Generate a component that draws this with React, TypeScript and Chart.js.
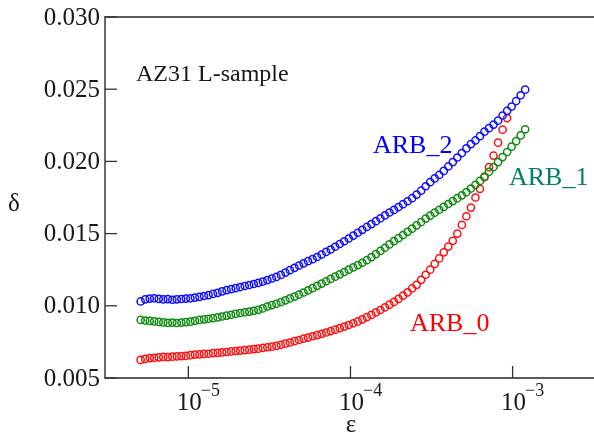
import React, { useEffect, useRef } from "react";
import { Chart, registerables } from "chart.js";
Chart.register(...registerables);

// strain amplitude (epsilon)
const strain = [
  5.08e-6, 5.42e-6, 5.78e-6, 6.16e-6, 6.57e-6, 7.01e-6, 7.47e-6, 7.97e-6, 8.49e-6, 9.06e-6,
  9.66e-6, 1.030e-5, 1.098e-5, 1.171e-5, 1.249e-5, 1.332e-5, 1.420e-5, 1.515e-5, 1.615e-5, 1.722e-5,
  1.837e-5, 1.958e-5, 2.088e-5, 2.227e-5, 2.375e-5, 2.532e-5, 2.700e-5, 2.880e-5, 3.071e-5, 3.274e-5,
  3.492e-5, 3.723e-5, 3.970e-5, 4.234e-5, 4.515e-5, 4.814e-5, 5.134e-5, 5.475e-5, 5.838e-5, 6.225e-5,
  6.637e-5, 7.078e-5, 7.548e-5, 8.049e-5, 8.583e-5, 9.152e-5, 9.759e-5, 1.041e-4, 1.110e-4, 1.183e-4,
  1.262e-4, 1.346e-4, 1.435e-4, 1.530e-4, 1.632e-4, 1.740e-4, 1.855e-4, 1.978e-4, 2.110e-4, 2.250e-4,
  2.399e-4, 2.558e-4, 2.728e-4, 2.909e-4, 3.102e-4, 3.308e-4, 3.527e-4, 3.761e-4, 4.011e-4, 4.277e-4,
  4.560e-4, 4.863e-4, 5.186e-4, 5.530e-4, 5.897e-4, 6.289e-4, 6.706e-4, 7.151e-4, 7.626e-4, 8.132e-4,
  8.671e-4, 9.247e-4, 9.858e-4, 1.051e-3, 1.121e-3, 1.195e-3,
];

// damping (delta) per series
const arb2 = [
  0.01030, 0.01045, 0.01050, 0.01052, 0.01048, 0.01044, 0.01046, 0.01042, 0.01045, 0.01047,
  0.01050, 0.01052, 0.01057, 0.01062, 0.01068, 0.01074, 0.01082, 0.01090, 0.01100, 0.01108,
  0.01115, 0.01122, 0.01130, 0.01137, 0.01144, 0.01151, 0.01159, 0.01168, 0.01178, 0.01189,
  0.01200, 0.01214, 0.01230, 0.01247, 0.01263, 0.01279, 0.01294, 0.01309, 0.01323, 0.01338,
  0.01355, 0.01373, 0.01390, 0.01409, 0.01428, 0.01447, 0.01466, 0.01486, 0.01506, 0.01526,
  0.01546, 0.01566, 0.01586, 0.01606, 0.01626, 0.01646, 0.01664, 0.01684, 0.01704, 0.01724,
  0.01745, 0.01770, 0.01797, 0.01828, 0.01856, 0.01882, 0.01906, 0.01934, 0.01965, 0.01995,
  0.02027, 0.02058, 0.02090, 0.02120, 0.02145, 0.02175, 0.02206, 0.02230, 0.02255, 0.02282,
  0.02318, 0.02350, 0.02380, 0.02418, 0.02458, 0.02497,
];

const arb1 = [
  0.00902, 0.00898, 0.00895, 0.00892, 0.00888, 0.00885, 0.00882, 0.00884, 0.00881, 0.00884,
  0.00887, 0.00890, 0.00896, 0.00902, 0.00906, 0.00910, 0.00914, 0.00920, 0.00926, 0.00932,
  0.00938, 0.00944, 0.00950, 0.00955, 0.00960, 0.00965, 0.00972, 0.00982, 0.00995, 0.01005,
  0.01014, 0.01026, 0.01038, 0.01051, 0.01064, 0.01078, 0.01092, 0.01107, 0.01122, 0.01138,
  0.01154, 0.01170, 0.01186, 0.01202, 0.01218, 0.01234, 0.01250, 0.01266, 0.01282, 0.01298,
  0.01316, 0.01337, 0.01358, 0.01380, 0.01402, 0.01425, 0.01448, 0.01468, 0.01490, 0.01512,
  0.01534, 0.01557, 0.01580, 0.01604, 0.01625, 0.01645, 0.01665, 0.01685, 0.01705, 0.01725,
  0.01745, 0.01765, 0.01787, 0.01812, 0.01838, 0.01865, 0.01895, 0.01928, 0.01961, 0.01995,
  0.02030, 0.02065, 0.02102, 0.02140, 0.02180, 0.02222,
];

const arb0 = [
  0.00625, 0.00632, 0.00638, 0.00640, 0.00643, 0.00646, 0.00645, 0.00648, 0.00650, 0.00652,
  0.00653, 0.00658, 0.00662, 0.00664, 0.00667, 0.00668, 0.00672, 0.00674, 0.00677, 0.00680,
  0.00684, 0.00687, 0.00690, 0.00693, 0.00697, 0.00700, 0.00703, 0.00708, 0.00713, 0.00717,
  0.00722, 0.00730, 0.00738, 0.00746, 0.00755, 0.00763, 0.00772, 0.00780, 0.00789, 0.00797,
  0.00806, 0.00815, 0.00825, 0.00835, 0.00845, 0.00856, 0.00867, 0.00879, 0.00892, 0.00906,
  0.00922, 0.00937, 0.00954, 0.00971, 0.00989, 0.01008, 0.01027, 0.01048, 0.01070, 0.01093,
  0.01120, 0.01145, 0.01180, 0.01215, 0.01250, 0.01290, 0.01328, 0.01370, 0.01410, 0.01450,
  0.01500, 0.01560, 0.01620, 0.01680, 0.01750, 0.01810, 0.01890, 0.01960, 0.02040, 0.02130,
  0.02220, 0.02300,
];

const yTicks = [0.005, 0.010, 0.015, 0.020, 0.025, 0.030];
const yTickLabels = ["0.005", "0.010", "0.015", "0.020", "0.025", "0.030"];
const xTicks = [1e-5, 1e-4, 1e-3];
const xTickExps = ["\u22125", "\u22124", "\u22123"];

const seriesNames = ["ARB_2", "ARB_1", "ARB_0"];
const FONT = '"Liberation Serif", "Times New Roman", serif';

const decor = {
  id: "decor",
  afterDraw(chart: any) {
    const ctx = chart.ctx as CanvasRenderingContext2D;
    const xs = chart.scales.x;
    const ys = chart.scales.y;
    const a = chart.chartArea;
    ctx.save();
    // axes frame (left, top, bottom)
    ctx.strokeStyle = "#5a5a5a";
    ctx.lineWidth = 1.8;
    ctx.beginPath();
    ctx.moveTo(594, a.top);
    ctx.lineTo(a.left, a.top);
    ctx.lineTo(a.left, a.bottom);
    ctx.lineTo(594, a.bottom);
    ctx.stroke();
    ctx.lineWidth = 1.3;
    ctx.strokeStyle = "#333";
    // y ticks
    ctx.fillStyle = "#1a1718";
    ctx.font = `25px ${FONT}`;
    ctx.textAlign = "right";
    ctx.textBaseline = "middle";
    yTicks.forEach((v, i) => {
      const y = ys.getPixelForValue(v);
      ctx.beginPath();
      ctx.moveTo(a.left, y);
      ctx.lineTo(a.left + 12, y);
      ctx.stroke();
      ctx.fillText(yTickLabels[i], a.left - 5, y + 1);
    });
    // x ticks
    xTicks.forEach((v, i) => {
      const x = xs.getPixelForValue(v);
      ctx.beginPath();
      ctx.moveTo(x, a.bottom);
      ctx.lineTo(x, a.bottom - 12);
      ctx.stroke();
      ctx.font = `25px ${FONT}`;
      ctx.textAlign = "center";
      ctx.textBaseline = "alphabetic";
      const w = ctx.measureText("10").width;
      ctx.fillText("10", x + 1, a.bottom + 32);
      ctx.font = `18px ${FONT}`;
      ctx.textAlign = "left";
      ctx.fillText(xTickExps[i], x + w / 2, a.bottom + 18);
    });
    // axis titles
    ctx.font = `25px ${FONT}`;
    ctx.textAlign = "center";
    ctx.textBaseline = "alphabetic";
    ctx.fillText("\u03b5", 351, 432);
    ctx.fillText("\u03b4", 14, 211);
    // annotation
    ctx.textAlign = "left";
    ctx.font = `24px ${FONT}`;
    ctx.fillText("AZ31 L-sample", 136, 81);
    ctx.font = `26px ${FONT}`;
    ctx.fillStyle = "#0000ff";
    ctx.fillText(seriesNames[0], 373, 153);
    ctx.fillStyle = "#00806a";
    ctx.fillText(seriesNames[1], 509, 185);
    ctx.fillStyle = "#ff0000";
    ctx.fillText(seriesNames[2], 410, 331);
    ctx.restore();
  },
};

export default function App() {
  const ref = useRef<HTMLCanvasElement>(null);
  useEffect(() => {
    if (!ref.current) return;
    const mk = (ys: number[]) => ys.map((y, i) => ({ x: strain[i], y }));
    const chart = new Chart(ref.current, {
      type: "scatter",
      data: {
        datasets: [
          { label: seriesNames[0], data: mk(arb2), borderColor: "#1010ff" },
          { label: seriesNames[1], data: mk(arb1), borderColor: "#108a10" },
          { label: seriesNames[2], data: mk(arb0), borderColor: "#ff1010" },
        ],
      },
      options: {
        animation: false,
        responsive: false,
        layout: { padding: { left: 105, top: 17, right: 0, bottom: 61 } },
        plugins: { legend: { display: false }, tooltip: { enabled: false } },
        elements: {
          point: { radius: 3.6, borderWidth: 1.5, backgroundColor: "rgba(0,0,0,0)", pointStyle: "circle" },
        },
        scales: {
          x: { type: "logarithmic", min: 3.062e-6, max: 2.938e-3, display: false },
          y: { type: "linear", min: 0.005, max: 0.03, display: false },
        },
      },
      plugins: [decor],
    });
    return () => chart.destroy();
  }, []);
  return (
    <div style={{ position: "fixed", left: 0, top: 0, width: 594, height: 439, background: "#fff" }}>
      <canvas ref={ref} width={594} height={439} />
    </div>
  );
}
